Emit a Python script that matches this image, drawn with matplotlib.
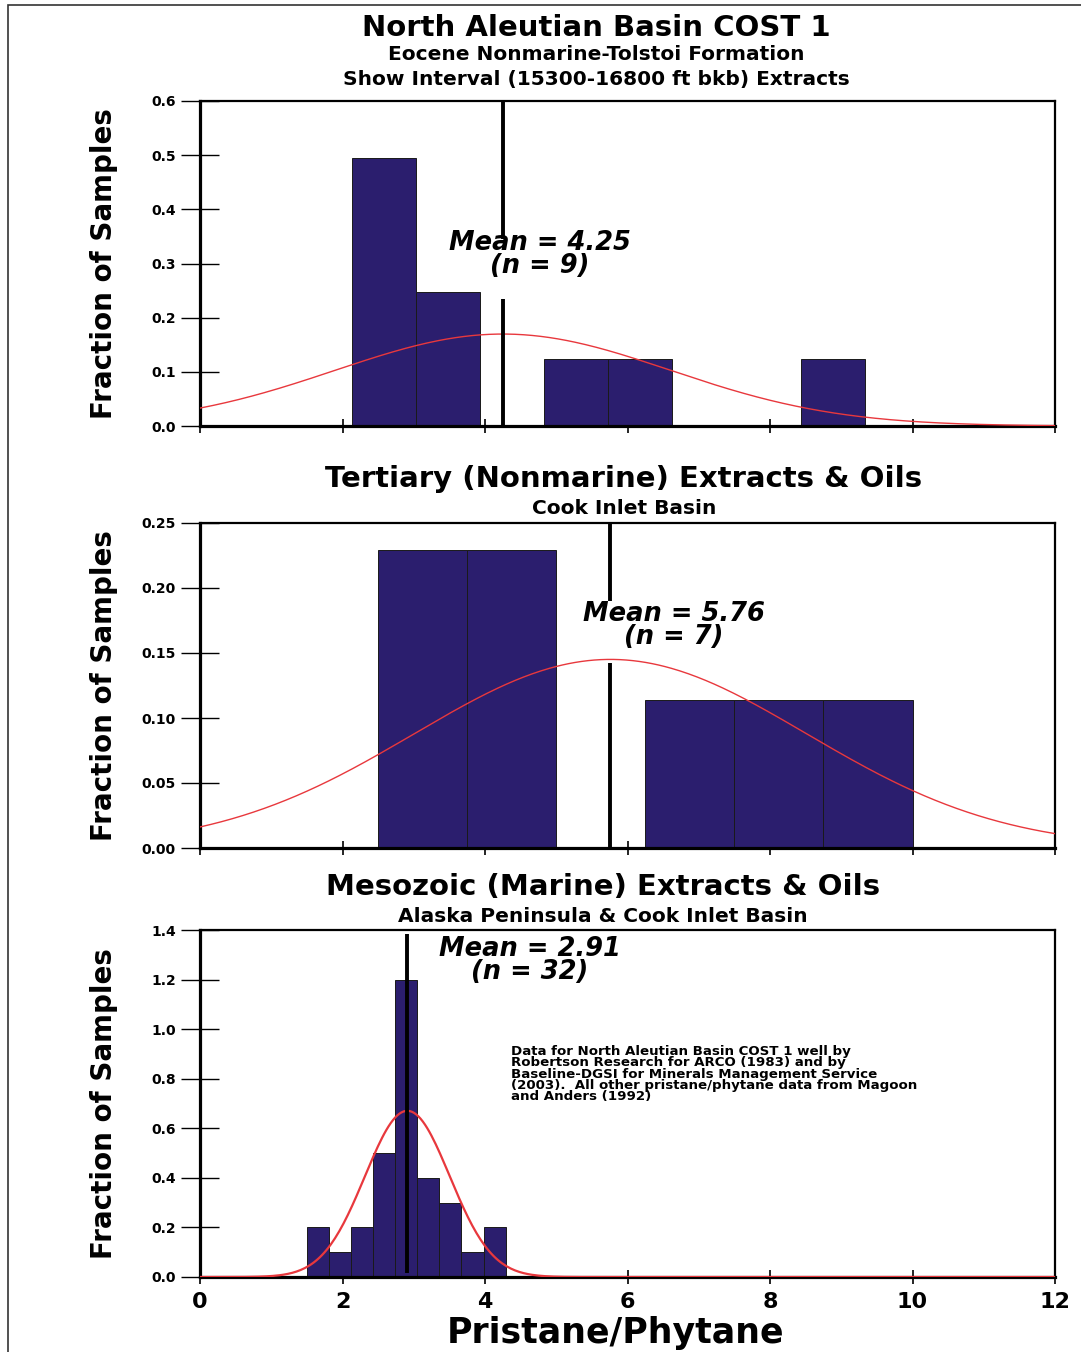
import numpy as np
import matplotlib
matplotlib.use("Agg")
import matplotlib.pyplot as plt
from matplotlib.patches import Rectangle

plt.rcParams['font.family'] = ['DejaVu Sans']

# panel 1: North Aleutian Basin COST 1 (bin left edges, width, heights)
p1_edges = [2.13, 3.03, 4.83, 5.73, 8.43]
p1_width = 0.9
p1_heights = [0.494, 0.247, 0.123, 0.123, 0.123]
p1_mean, p1_sd, p1_n = 4.25, 2.35, 9

# panel 2: Tertiary (Nonmarine) extracts & oils
p2_edges = [2.5, 3.75, 6.25, 7.5, 8.75]
p2_width = 1.25
p2_heights = [0.229, 0.229, 0.114, 0.114, 0.114]
p2_mean, p2_sd, p2_n = 5.76, 2.75, 7

# panel 3: Mesozoic (Marine) extracts & oils
p3_edges = [1.5, 1.81, 2.12, 2.43, 2.74, 3.05, 3.36, 3.67, 3.98]
p3_width = 0.31
p3_heights = [0.2, 0.1, 0.2, 0.5, 1.2, 0.4, 0.3, 0.1, 0.2]
p3_mean, p3_sd, p3_n = 2.91, 0.595, 32

x_ticks = [0, 2, 4, 6, 8, 10, 12]

W, H = 1081, 1352
fig = plt.figure(figsize=(W / 100, H / 100), dpi=100)

# outer frame
fig.add_artist(Rectangle((8 / W, -0.01), 1.0, 1 - 5 / H + 0.01, transform=fig.transFigure,
                         fill=False, lw=1.2, ec='#333333'))

bar_color = '#2B1E6E'
curve_color = '#E8383D'
mean_fs = 18.5


def px_axes(top, bottom):
    return [200 / W, 1 - bottom / H, 855 / W, (bottom - top) / H]


def draw_panel(ax, edges, width, heights, mean, sd, ymax, yticks, yfmt, gap, curve_lw):
    ax.bar(edges, heights, width=width, align='edge', color=bar_color,
           edgecolor='#1a1a1a', linewidth=0.7, zorder=2)
    xs = np.linspace(0, 12, 400)
    ys = np.exp(-0.5 * ((xs - mean) / sd) ** 2) / (sd * np.sqrt(2 * np.pi))
    ax.plot(xs, ys, color=curve_color, lw=curve_lw, zorder=3)
    if gap is None:
        ax.plot([mean, mean], [0, ymax], color='black', lw=2.8, zorder=4, solid_capstyle='butt')
    else:
        ax.plot([mean, mean], [0, gap[0]], color='black', lw=2.8, zorder=4, solid_capstyle='butt')
        ax.plot([mean, mean], [gap[1], ymax], color='black', lw=2.8, zorder=4, solid_capstyle='butt')
    ax.set_xlim(0, 12)
    ax.set_ylim(0, ymax)
    ax.set_yticks(yticks)
    ax.set_yticklabels([yfmt.format(v) for v in yticks], fontsize=10, fontweight='bold')
    ax.set_xticks(x_ticks)
    ax.tick_params(axis='y', direction='inout', length=27, width=1, pad=4)
    ax.tick_params(axis='x', direction='inout', length=10, width=1.2)
    for s in ['left', 'bottom']:
        ax.spines[s].set_linewidth(2.3)
    for s in ['top', 'right']:
        ax.spines[s].set_linewidth(1.6)
    ax.set_ylabel('Fraction of Samples', fontsize=20, fontweight='bold')
    ax.yaxis.set_label_coords(-0.096, 0.5)


def mean_label(ax, x, y, mean, n):
    ax.text(x, y, 'Mean = %.2f\n(n = %d)' % (mean, n), ha='center', va='center',
            multialignment='center', fontsize=mean_fs, fontweight='bold',
            style='italic', linespacing=0.82)


ax1 = fig.add_axes(px_axes(101, 426))
draw_panel(ax1, p1_edges, p1_width, p1_heights, p1_mean, p1_sd, 0.6,
           [0.0, 0.1, 0.2, 0.3, 0.4, 0.5, 0.6], '{:.1f}', (0.235, 0.345), 1.0)
ax1.set_xticklabels([])
mean_label(ax1, 4.77, 0.3165, p1_mean, p1_n)

ax2 = fig.add_axes(px_axes(523, 848))
draw_panel(ax2, p2_edges, p2_width, p2_heights, p2_mean, p2_sd, 0.25,
           [0.0, 0.05, 0.10, 0.15, 0.20, 0.25], '{:.2f}', (0.142, 0.19), 1.0)
ax2.set_xticklabels([])
mean_label(ax2, 6.65, 0.171, p2_mean, p2_n)

ax3 = fig.add_axes(px_axes(930, 1277))
draw_panel(ax3, p3_edges, p3_width, p3_heights, p3_mean, p3_sd, 1.4,
           [0.0, 0.2, 0.4, 0.6, 0.8, 1.0, 1.2, 1.4], '{:.1f}', None, 1.6)
ax3.lines[-1].set_data([p3_mean, p3_mean], [0.015, 1.385])
ax3.set_xticklabels([str(v) for v in x_ticks], fontsize=16, fontweight='bold')
ax3.tick_params(axis='x', pad=6)
mean_label(ax3, 4.63, 1.2765, p3_mean, p3_n)
ax3.text(4.36, 0.935, 'Data for North Aleutian Basin COST 1 well by\n'
         'Robertson Research for ARCO (1983) and by\n'
         'Baseline-DGSI for Minerals Management Service\n'
         '(2003).  All other pristane/phytane data from Magoon\n'
         'and Anders (1992)', ha='left', va='top', fontsize=9.6,
         fontweight='bold', linespacing=0.82)

fig.text(615 / W, 1.5 / H, 'Pristane/Phytane', ha='center', va='bottom',
         fontsize=25, fontweight='bold')

# titles
def title(x, y, s, size):
    fig.text(x / W, 1 - y / H, s, ha='center', va='center', fontsize=size, fontweight='bold')


title(596, 28, 'North Aleutian Basin COST 1', 21)
title(596, 55, 'Eocene Nonmarine-Tolstoi Formation', 14.5)
title(596, 79, 'Show Interval (15300-16800 ft bkb) Extracts', 14.5)
title(624, 479, 'Tertiary (Nonmarine) Extracts & Oils', 21)
title(624, 508, 'Cook Inlet Basin', 14.5)
title(603, 887, 'Mesozoic (Marine) Extracts & Oils', 21)
title(603, 916, 'Alaska Peninsula & Cook Inlet Basin', 14.5)

fig.savefig('out.png', dpi=100)
